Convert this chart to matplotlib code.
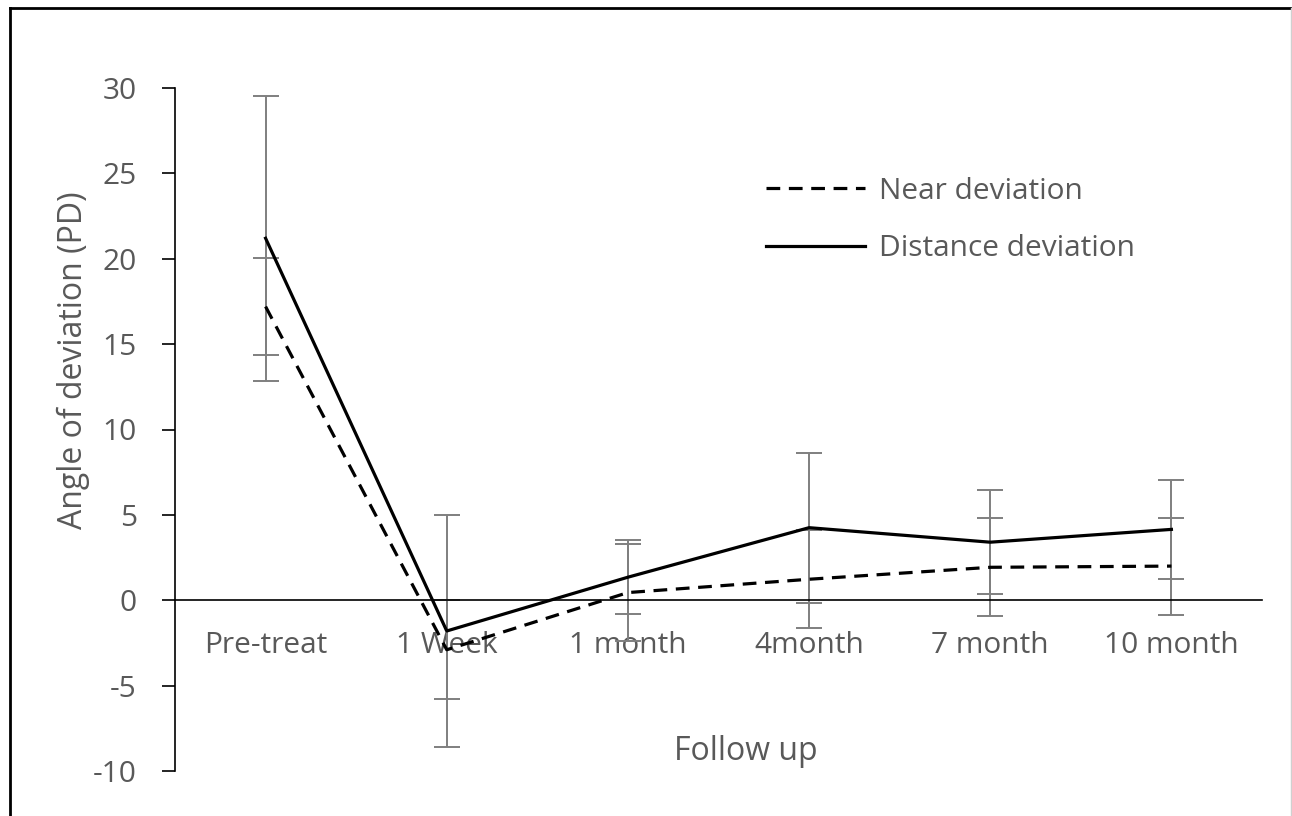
import matplotlib
matplotlib.use("Agg")
import matplotlib.pyplot as plt
from matplotlib.lines import Line2D

categories = ["Pre-treat", "1 Week", "1 month", "4month", "7 month", "10 month"]
distance = [21.2, -1.8, 1.35, 4.25, 3.4, 4.15]
distance_err = [8.35, 6.8, 2.15, 4.4, 3.05, 2.9]
near = [17.2, -2.9, 0.45, 1.23, 1.93, 2.0]
near_err = [2.85, 2.9, 2.85, 2.87, 2.87, 2.84]
yticks = [-10, -5, 0, 5, 10, 15, 20, 25, 30]

plt.rcParams['font.family'] = ['Open Sans', 'DejaVu Sans']
GREY = '#595959'
W, H = 1292, 816
fig = plt.figure(figsize=(W / 100, H / 100), dpi=100)
L, R, T, B = 175, 1262, 88, 771
ax = fig.add_axes([L / W, 1 - B / H, (R - L) / W, (B - T) / H])

x = list(range(len(categories)))
ax.errorbar(x, distance, yerr=distance_err, fmt='none', ecolor='#7f7f7f',
            elinewidth=1.4, capsize=9.5, capthick=1.4, zorder=2)
ax.errorbar(x, near, yerr=near_err, fmt='none', ecolor='#7f7f7f',
            elinewidth=1.4, capsize=9.5, capthick=1.4, zorder=2)
ln_near, = ax.plot(x, near, color='black', lw=2.3, linestyle=(0, (4.3, 2.7)),
                   label='Near deviation', zorder=3)
ln_dist, = ax.plot(x, distance, color='black', lw=2.3, label='Distance deviation', zorder=3)

ax.set_xlim(-0.5, len(categories) - 0.5)
ax.set_ylim(-10, 30)
ax.set_yticks(yticks)
ax.set_yticklabels([str(v) for v in yticks])
ax.set_xticks(x)
ax.set_xticklabels(categories)

for s in ['top', 'right']:
    ax.spines[s].set_visible(False)
ax.spines['bottom'].set_position(('data', 0))
ax.spines['bottom'].set_linewidth(1.2)
ax.spines['left'].set_linewidth(1.2)
ax.tick_params(axis='x', length=0, pad=22, labelsize=21.5, labelcolor=GREY)
ax.tick_params(axis='y', direction='out', length=9.5, width=1.2, pad=18,
               labelsize=21.5, labelcolor=GREY)

ax.set_xlabel('Follow up', fontsize=23, color=GREY, va='center')
ax.xaxis.set_label_coords((746 - L) / (R - L), (B - 752) / (B - T))
ax.set_ylabel('Angle of deviation (PD)', fontsize=23, color=GREY, va='center')
ax.yaxis.set_label_coords((73 - L) / (R - L), (B - 360) / (B - T))

leg = ax.legend(handles=[ln_near, ln_dist], loc='center left',
                bbox_to_anchor=(766 / W, 1 - 220 / H), bbox_transform=fig.transFigure,
                frameon=False, fontsize=21.5, handlelength=3.3, handletextpad=0.47,
                borderpad=0, borderaxespad=0, labelspacing=0.95)
for t in leg.get_texts():
    t.set_color(GREY)

# outer border of the chart area
fig.add_artist(Line2D([10 / W, 1], [1 - 8 / H, 1 - 8 / H], transform=fig.transFigure,
                      color='black', lw=2))
fig.add_artist(Line2D([10 / W, 10 / W], [0, 1 - 8 / H], transform=fig.transFigure,
                      color='black', lw=2))
fig.add_artist(Line2D([1290.5 / W, 1290.5 / W], [0, 1 - 8 / H], transform=fig.transFigure,
                      color='#d0d0d0', lw=1))

fig.savefig('out.png', dpi=100)
